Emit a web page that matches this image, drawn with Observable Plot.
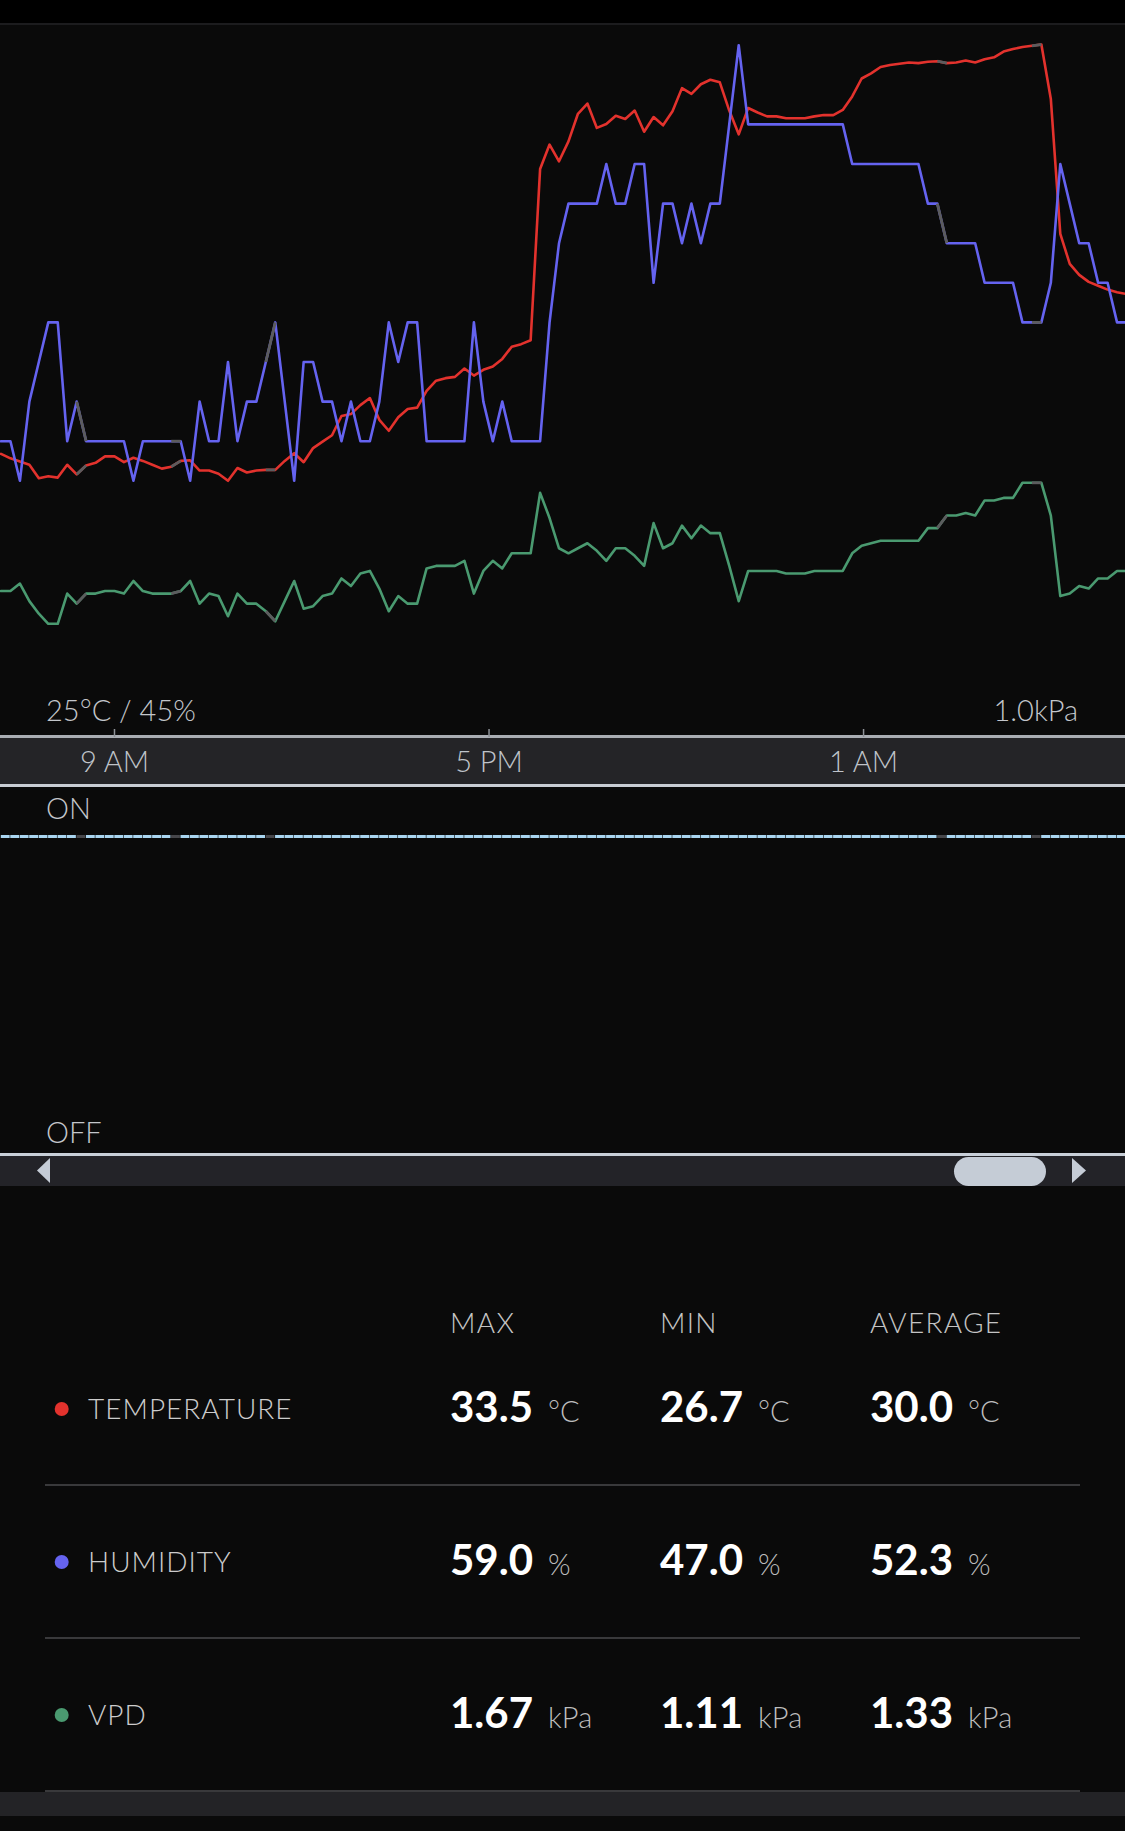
<!DOCTYPE html>
<html>
<head>
<meta charset="utf-8">
<script src="https://cdn.jsdelivr.net/npm/d3@7"></script>
<script src="https://cdn.jsdelivr.net/npm/@observablehq/plot@0.6"></script>
<style>
  html, body { margin: 0; padding: 0; background: #0a0a0a; }
  #page { position: relative; width: 1125px; height: 1831px; background: #0a0a0a; overflow: hidden; font-family: Lato, "Noto Sans", sans-serif; }
  .layer { position: absolute; left: 0; }
  .band { position: absolute; left: 0; width: 1125px; }
</style>
</head>
<body>
<div id="page">
  <div class="band" style="top:0;height:23px;background:#000"></div>
  <div class="band" style="top:23px;height:2px;background:#1c1c1e"></div>
  <div class="band" style="top:735px;height:3px;background:#a9adb3"></div>
  <div class="band" style="top:738px;height:46px;background:#242427"></div>
  <div class="band" style="top:784px;height:3px;background:#c8cdd4"></div>
  <div class="band" style="top:1153px;height:3px;background:#c8cfd8"></div>
  <div class="band" style="top:1156px;height:30px;background:#232328"></div>
  <div class="band" style="top:1792px;height:24px;background:#232326"></div>
</div>
<script>
// ---- data (one point every ~12 minutes, 120 points) ----
const temperature = [27.12,27.05,27.00,26.95,26.74,26.77,26.75,26.95,26.80,26.94,
26.98,27.08,27.08,26.99,27.06,27.01,26.95,26.89,26.92,27.01,
27.02,26.86,26.86,26.81,26.70,26.90,26.83,26.86,26.87,26.87,
27.01,27.13,26.99,27.21,27.31,27.41,27.71,27.74,27.88,27.99,
27.65,27.48,27.69,27.82,27.84,28.10,28.26,28.30,28.32,28.45,
28.34,28.43,28.48,28.60,28.79,28.83,28.89,31.56,31.94,31.68,
31.99,32.42,32.58,32.20,32.26,32.39,32.34,32.47,32.14,32.37,
32.24,32.46,32.82,32.73,32.88,32.95,32.91,32.47,32.10,32.51,
32.44,32.38,32.38,32.35,32.35,32.35,32.38,32.40,32.40,32.48,
32.69,32.97,33.05,33.15,33.18,33.20,33.22,33.21,33.23,33.24,
33.21,33.22,33.25,33.22,33.27,33.30,33.39,33.43,33.46,33.48,
33.50,32.65,30.55,30.08,29.91,29.80,29.74,29.68,29.64,29.61];

const humidity = [49,49,48,50,51,52,52,49,50,49,
49,49,49,49,48,49,49,49,49,49,
48,50,49,49,51,49,50,50,51,52,
50,48,51,51,50,50,49,50,49,49,
50,52,51,52,52,49,49,49,49,49,
52,50,49,50,49,49,49,49,52,54,
55,55,55,55,56,55,55,56,56,53,
55,55,54,55,54,55,55,57,59,57,
57,57,57,57,57,57,57,57,57,57,
56,56,56,56,56,56,56,56,55,55,
54,54,54,54,53,53,53,53,52,52,
52,53,56,55,54,54,53,53,52,52];

const vpd = [1.24,1.24,1.27,1.20,1.15,1.11,1.11,1.23,1.19,1.23,
1.23,1.24,1.24,1.23,1.28,1.24,1.23,1.23,1.23,1.24,
1.28,1.19,1.23,1.22,1.14,1.23,1.19,1.19,1.16,1.12,
1.20,1.28,1.17,1.18,1.22,1.23,1.29,1.26,1.31,1.32,
1.25,1.16,1.22,1.19,1.19,1.33,1.34,1.34,1.34,1.36,
1.23,1.32,1.36,1.33,1.39,1.39,1.39,1.63,1.53,1.41,
1.39,1.41,1.43,1.40,1.36,1.41,1.41,1.38,1.34,1.51,
1.41,1.43,1.50,1.45,1.50,1.47,1.47,1.34,1.20,1.32,
1.32,1.32,1.32,1.31,1.31,1.31,1.32,1.32,1.32,1.32,
1.39,1.42,1.43,1.44,1.44,1.44,1.44,1.44,1.49,1.49,
1.54,1.54,1.55,1.54,1.60,1.60,1.61,1.61,1.67,1.67,
1.67,1.54,1.22,1.23,1.26,1.25,1.29,1.29,1.32,1.32];

const deviceState = [1,1,1,1,1,1,1,1,1,1,1,1,1,1,1,1,1,1,1,1,
1,1,1,1,1,1,1,1,1,1,1,1,1,1,1,1,1,1,1,1,
1,1,1,1,1,1,1,1,1,1,1,1,1,1,1,1,1,1,1,1,
1,1,1,1,1,1,1,1,1,1,1,1,1,1,1,1,1,1,1,1,
1,1,1,1,1,1,1,1,1,1,1,1,1,1,1,1,1,1,1,1,
1,1,1,1,1,1,1,1,1,1,1,1,1,1,1,1,1,1,1,1];

// segments (start index) with missing readings
const gapStarts = [8, 18, 28, 99, 109];

// time axis ticks (point index) and labels
const tickIndex = [12, 51.6, 91.2];
const tickLabels = ["9 AM", "5 PM", "1 AM"];

// statistics table
const statNames = ["TEMPERATURE", "HUMIDITY", "VPD"];
const statMax = ["33.5", "59.0", "1.67"];
const statMin = ["26.7", "47.0", "1.11"];
const statAvg = ["30.0", "52.3", "1.33"];
const statUnits = ["°C", "%", "kPa"];
const statHeaders = ["MAX", "MIN", "AVERAGE"];

// ---- drawing ----
const W = 1125;
const page = document.getElementById("page");
const FONT = 'Lato, "Noto Sans", sans-serif';
const colors = {temp: "#e3322d", hum: "#6563f0", vpd: "#4a9a70", gap: "#5c5c5e", on: "#a9d5f0", onGap: "#46464a"};
const xScale = {domain: [0, 119], range: [0.5, 1126], axis: null};

function place(el, top, z) {
  const wrap = document.createElement("div");
  wrap.className = "layer";
  wrap.style.top = top + "px";
  wrap.style.zIndex = z;
  wrap.appendChild(el);
  page.appendChild(wrap);
}

// axis plot (ticks + labels in the grey band)
const axisPlot = Plot.plot({
  width: W, height: 787, marginTop: 0, marginLeft: 0, marginRight: 0, marginBottom: 50,
  x: {domain: xScale.domain, range: xScale.range},
  style: {background: "transparent", fontFamily: FONT},
  marks: [
    Plot.tickX(tickIndex, {x: d => d, stroke: "#8e9298", strokeWidth: 1.5, insetTop: 729}),
    Plot.axisX(tickIndex, {
      anchor: "bottom", tickSize: 0, tickPadding: 14, fontSize: 29, fontWeight: 300,
      color: "#bfc3c9", tickFormat: d => tickLabels[tickIndex.indexOf(d)], label: null
    })
  ]
});
place(axisPlot, 0, 2);

function seriesPlot(values, domain, range, color) {
  return Plot.plot({
    width: W, height: 737, margin: 0,
    x: xScale,
    y: {domain, range, axis: null},
    style: {background: "transparent"},
    marks: [
      Plot.line(values, {x: (d, i) => i, y: d => d, stroke: color, strokeWidth: 2.6,
        strokeLinejoin: "round", strokeLinecap: "round"}),
      Plot.link(gapStarts, {x1: d => d, x2: d => d + 1, y1: d => values[d], y2: d => values[d + 1],
        stroke: colors.gap, strokeWidth: 2.8})
    ]
  });
}
place(seriesPlot(vpd, [1.11, 1.67], [623.3, 482.3], colors.vpd), 0, 3);
place(seriesPlot(temperature, [26.7, 33.5], [480.3, 44], colors.temp), 0, 4);
place(seriesPlot(humidity, [48, 59], [480.3, 44.7], colors.hum), 0, 5);

// ON/OFF panel
const segs = deviceState.slice(0, -1).map((s, i) => ({i, s, gap: gapStarts.includes(i)}));
const statePlot = Plot.plot({
  width: W, height: 366, margin: 0,
  x: xScale,
  y: {domain: [0, 1], range: [355, 49], axis: null},
  style: {background: "transparent"},
  marks: [
    Plot.ruleY(segs.filter(d => !d.gap), {x1: "i", x2: d => d.i + 1, y: "s", stroke: colors.on, strokeWidth: 3, insetLeft: 0.3, insetRight: 0.3}),
    Plot.ruleY(segs.filter(d => d.gap), {x1: "i", x2: d => d.i + 1, y: "s", stroke: colors.onGap, strokeWidth: 3, insetLeft: 0.3, insetRight: 0.3})
  ]
});
place(statePlot, 787, 3);

// decor / text layer
const NS = "http://www.w3.org/2000/svg";
const svg = document.createElementNS(NS, "svg");
svg.setAttribute("width", W);
svg.setAttribute("height", 1831);
svg.style.display = "block";
function add(tag, attrs, text) {
  const el = document.createElementNS(NS, tag);
  for (const k in attrs) el.setAttribute(k, attrs[k]);
  if (text != null) el.textContent = text;
  svg.appendChild(el);
  return el;
}
const labelStyle = {"font-family": FONT, "font-size": 29, "font-weight": 300, fill: "#c3c6cb"};
add("text", {...labelStyle, x: 46, y: 721}, "25°C / 45%");
add("text", {...labelStyle, x: 1078, y: 721, "text-anchor": "end"}, "1.0kPa");
add("text", {...labelStyle, x: 46, y: 819}, "ON");
add("text", {...labelStyle, x: 46, y: 1143}, "OFF");

// scrollbar
add("polygon", {points: "50,1158 37,1170.5 50,1183", fill: "#c5ccd6"});
add("polygon", {points: "1072,1158 1086,1170.5 1072,1183", fill: "#c5ccd6"});
add("rect", {x: 954, y: 1157, width: 92, height: 29, rx: 14.5, fill: "#c5ccd6"});

// table
const colX = [450, 660, 870];
statHeaders.forEach((h, j) => add("text", {x: colX[j], y: 1333, "font-family": FONT, "font-size": 28, "font-weight": 300, fill: "#c4c4c4", "letter-spacing": 1.3}, h));
const dotColors = [colors.temp, colors.hum, colors.vpd];
statNames.forEach((name, i) => {
  const yb = 1419 + 153 * i;
  add("circle", {cx: 61.7, cy: yb - 10, r: 7, fill: dotColors[i]});
  add("text", {x: 88, y: yb, "font-family": FONT, "font-size": 28, "font-weight": 300, fill: "#cccccc", "letter-spacing": 1}, name);
  [statMax[i], statMin[i], statAvg[i]].forEach((v, j) => {
    const t = add("text", {x: colX[j], y: yb + 3, "font-family": FONT, "font-size": 42, "font-weight": 700, fill: "#ffffff"});
    const a = document.createElementNS(NS, "tspan"); a.textContent = v; t.appendChild(a);
    const b = document.createElementNS(NS, "tspan");
    b.setAttribute("dx", 15); b.setAttribute("font-size", 29); b.setAttribute("font-weight", 300); b.setAttribute("fill", "#bdbdbd");
    b.textContent = statUnits[i]; t.appendChild(b);
  });
  add("line", {x1: 45, x2: 1080, y1: 1485 + 153 * i, y2: 1485 + 153 * i, stroke: "#4a4a4c", "stroke-width": 1.5});
});
const deco = document.createElement("div");
deco.className = "layer";
deco.style.top = "0px"; deco.style.zIndex = 10; deco.style.pointerEvents = "none";
deco.appendChild(svg);
page.appendChild(deco);
</script>
</body>
</html>
